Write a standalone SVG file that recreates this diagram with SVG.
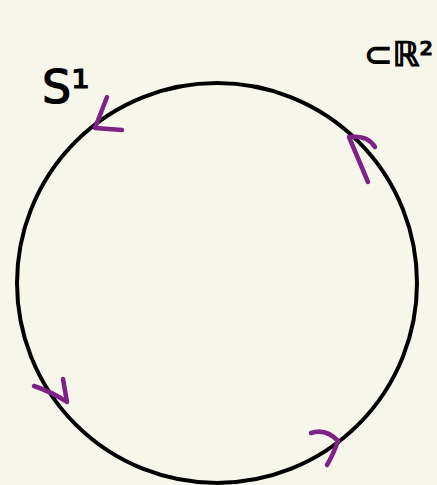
<svg xmlns="http://www.w3.org/2000/svg" width="437" height="485" viewBox="0 0 437 485">
<style>
.lbl{font-family:"DejaVu Sans","Noto Sans",sans-serif;fill:#000;stroke:#000;stroke-width:1.2;}
.arr{fill:none;stroke:#7d2386;stroke-width:4.5;stroke-linecap:round;stroke-linejoin:round;}
</style>
<rect width="437" height="485" fill="#f7f6ea"/>
<g id="circle">
<circle cx="217" cy="283" r="200" fill="none" stroke="#000" stroke-width="4"/>
</g>
<g id="labels">
<text class="lbl" x="42" y="103" font-size="46">S¹</text>
<text class="lbl" x="364" y="66" font-size="34">⊂ℝ²</text>
</g>
<g id="connectors">
<path class="arr" d="M107,97 L95,128 L122,130"/>
<path class="arr" d="M375,147 Q368,135 349,137 L368,182"/>
<path class="arr" d="M34,386 Q52,392 67,402 L63,379"/>
<path class="arr" d="M311,433 Q326,428 338,441 Q333,455 327,465"/>
</g>
</svg>
